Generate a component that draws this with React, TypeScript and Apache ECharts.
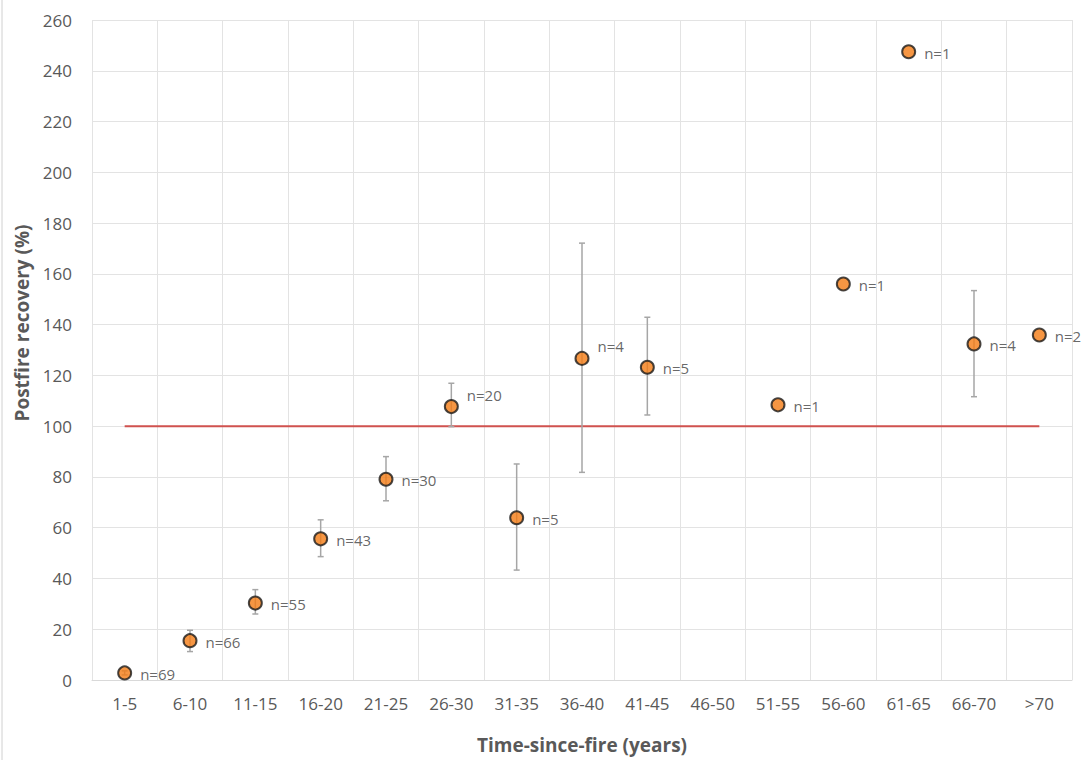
import React, { useEffect, useRef } from "react";
import * as echarts from "echarts";

const categories = ["1-5", "6-10", "11-15", "16-20", "21-25", "26-30", "31-35", "36-40", "41-45", "46-50", "51-55", "56-60", "61-65", "66-70", ">70"];
const means: (number | null)[] = [2.8, 15.5, 30.3, 55.6, 79.1, 107.7, 63.9, 126.7, 123.2, null, 108.4, 156.0, 247.5, 132.4, 135.9];
const lows: (number | null)[] = [2.0, 11.2, 26.0, 48.6, 70.6, 99.8, 43.3, 81.8, 104.4, null, null, null, null, 111.6, null];
const highs: (number | null)[] = [3.6, 19.6, 35.6, 63.1, 88.0, 116.9, 85.1, 172.1, 142.9, null, null, null, null, 153.4, null];
const nLabels: (string | null)[] = ["n=69", "n=66", "n=55", "n=43", "n=30", "n=20", "n=5", "n=4", "n=5", null, "n=1", "n=1", "n=1", "n=4", "n=2"];
const referenceLine = categories.map(() => 100);
const yTicks = { min: 0, max: 260, interval: 20 };
const xTitle = "Time-since-fire (years)";
const yTitle = "Postfire recovery (%)";

const raisedLabels = new Set([5, 7]);

export default function App() {
  const ref = useRef<HTMLDivElement>(null);
  useEffect(() => {
    if (!ref.current) return;
    const chart = echarts.init(ref.current, undefined, { renderer: "svg" });
    const font = "'Open Sans', 'Noto Sans', sans-serif";
    const errData = categories
      .map((_, i) => (lows[i] != null && highs[i] != null ? [i, lows[i], highs[i]] : null))
      .filter((d) => d !== null);
    const scatterData = means.map((m, i) =>
      m == null
        ? "-"
        : {
            value: [i, m],
            label: {
              show: true,
              formatter: nLabels[i] ?? "",
              position: "right",
              distance: 8,
              offset: raisedLabels.has(i) ? [0, -12] : [0, 1],
            },
          }
    );
    chart.setOption({
      animation: false,
      backgroundColor: "#ffffff",
      textStyle: { fontFamily: font },
      grid: { left: 92, right: 11, top: 20, bottom: 80, containLabel: false },
      xAxis: {
        type: "category",
        data: categories,
        boundaryGap: true,
        name: xTitle,
        nameLocation: "middle",
        nameGap: 55,
        nameTextStyle: { fontSize: 19, fontWeight: "bold", color: "#595959", fontFamily: font },
        axisLine: { show: true, lineStyle: { color: "#d9d9d9", width: 1 } },
        axisTick: { show: false },
        axisLabel: { color: "#595959", fontSize: 17, margin: 15, interval: 0, fontFamily: font },
        splitLine: { show: true, lineStyle: { color: "#e3e3e3", width: 1 } },
      },
      yAxis: {
        type: "value",
        min: yTicks.min,
        max: yTicks.max,
        interval: yTicks.interval,
        axisLine: { show: false },
        axisTick: { show: false },
        axisLabel: { color: "#595959", fontSize: 17, margin: 20, fontFamily: font },
        splitLine: { show: true, lineStyle: { color: "#e3e3e3", width: 1 } },
      },
      graphic: [
        { type: "line", shape: { x1: 2, y1: 0, x2: 2, y2: 760 }, style: { stroke: "#d0d0d0", lineWidth: 1 } },
        {
          type: "text",
          x: 22,
          y: 323,
          rotation: Math.PI / 2,
          style: {
            text: yTitle,
            fontSize: 19,
            fontWeight: "bold",
            fill: "#595959",
            fontFamily: font,
            textAlign: "center",
            textVerticalAlign: "middle",
          },
        },
      ],
      series: [
        {
          type: "line",
          data: referenceLine,
          symbol: "none",
          lineStyle: { color: "#d0524f", width: 2 },
          z: 2,
        },
        {
          type: "custom",
          data: errData,
          z: 3,
          renderItem: (params: any, api: any) => {
            const x = api.value(0);
            const lo = api.coord([x, api.value(1)]);
            const hi = api.coord([x, api.value(2)]);
            const cap = 3;
            const style = { stroke: "#a6a6a6", lineWidth: 1.5 };
            return {
              type: "group",
              children: [
                { type: "line", shape: { x1: lo[0], y1: lo[1], x2: hi[0], y2: hi[1] }, style },
                { type: "line", shape: { x1: hi[0] - cap, y1: hi[1], x2: hi[0] + cap, y2: hi[1] }, style },
                { type: "line", shape: { x1: lo[0] - cap, y1: lo[1], x2: lo[0] + cap, y2: lo[1] }, style },
              ],
            };
          },
        },
        {
          type: "scatter",
          data: scatterData,
          symbol: "circle",
          symbolSize: 13,
          z: 5,
          itemStyle: { color: "#f47c14", borderColor: "#1a1a1a", borderWidth: 2 },
          label: { color: "#404040", fontSize: 15, fontFamily: font },
        },
      ],
    });
    return () => chart.dispose();
  }, []);
  return (
    <div
      ref={ref}
      style={{ position: "fixed", left: 0, top: 0, width: 1083, height: 760, background: "#fff" }}
    />
  );
}
